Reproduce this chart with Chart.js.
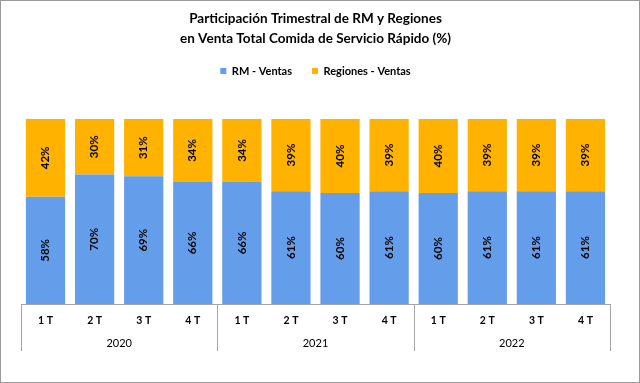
<!DOCTYPE html>
<html>
<head>
<meta charset="utf-8">
<script src="https://cdn.jsdelivr.net/npm/chart.js@4"></script>
<style>
  html, body { margin: 0; padding: 0; background: #fff; }
  canvas { display: block; }
</style>
</head>
<body>
<canvas id="ventasChart" width="640" height="383"></canvas>
<script>
const quarters = ["1 T", "2 T", "3 T", "4 T", "1 T", "2 T", "3 T", "4 T", "1 T", "2 T", "3 T", "4 T"];
const years = ["2020", "2021", "2022"];
const rmVentas = [58, 70, 69, 66, 66, 61, 60, 61, 60, 61, 61, 61];
const regionesVentas = [42, 30, 31, 34, 34, 39, 40, 39, 40, 39, 39, 39];

const FONT = "Lato, 'Open Sans', sans-serif";

// % labels inside each segment, rotated
const segmentLabels = {
  id: "segmentLabels",
  afterDatasetsDraw(chart) {
    const ctx = chart.ctx;
    ctx.save();
    ctx.font = "bold 11.5px " + FONT;
    ctx.fillStyle = "#000";
    ctx.textAlign = "center";
    ctx.textBaseline = "middle";
    chart.data.datasets.forEach((ds, i) => {
      chart.getDatasetMeta(i).data.forEach((bar, j) => {
        const cy = (bar.y + bar.base) / 2;
        ctx.save();
        ctx.translate(bar.x, cy);
        ctx.rotate(-Math.PI / 2);
        ctx.fillText(ds.data[j] + "%", 0, 0);
        ctx.restore();
      });
    });
    ctx.restore();
  },
};

// year groups under the quarter labels + outer frame
const yearGroups = {
  id: "yearGroups",
  afterDraw(chart) {
    const ctx = chart.ctx;
    const xs = chart.scales.x;
    const area = chart.chartArea;
    const per = quarters.length / years.length;
    const edges = [area.left];
    for (let g = 1; g < years.length; g++) {
      const a = xs.getPixelForValue(g * per - 1);
      const b = xs.getPixelForValue(g * per);
      edges.push((a + b) / 2);
    }
    edges.push(area.right);

    ctx.save();
    ctx.strokeStyle = "#a6a6a6";
    ctx.lineWidth = 1;
    edges.forEach((x) => {
      const px = Math.round(x) + 0.5;
      ctx.beginPath();
      ctx.moveTo(px, xs.top);
      ctx.lineTo(px, xs.top + 47);
      ctx.stroke();
    });
    ctx.font = "11px " + FONT;
    ctx.fillStyle = "#000";
    ctx.textAlign = "center";
    ctx.textBaseline = "middle";
    years.forEach((y, g) => {
      ctx.fillText(y, (edges[g] + edges[g + 1]) / 2, xs.top + 39);
    });

    ctx.strokeStyle = "#9a9a9a";
    ctx.strokeRect(0.5, 0.5, chart.width - 1, chart.height - 1);
    ctx.restore();
  },
};

new Chart(document.getElementById("ventasChart"), {
  type: "bar",
  data: {
    labels: quarters,
    datasets: [
      {
        label: "RM - Ventas",
        data: rmVentas,
        backgroundColor: "#649EEA",
        categoryPercentage: 0.8,
        barPercentage: 1,
      },
      {
        label: "Regiones - Ventas",
        data: regionesVentas,
        backgroundColor: "#FFB300",
        categoryPercentage: 0.8,
        barPercentage: 1,
      },
    ],
  },
  options: {
    responsive: false,
    animation: false,
    devicePixelRatio: 1,
    layout: {
      padding: { left: 21, right: 30, top: 0, bottom: 0 },
    },
    plugins: {
      title: {
        display: true,
        text: [
          "Participación Trimestral de RM y Regiones",
          "en Venta Total Comida de Servicio Rápido (%)",
        ],
        color: "#000",
        font: { family: FONT, size: 13.5, weight: "bold", lineHeight: "20px" },
        padding: { top: 9, bottom: -3.5 },
      },
      legend: {
        display: true,
        labels: {
          color: "#000",
          boxWidth: 6,
          boxHeight: 6,
          padding: 20,
          font: { family: FONT, size: 11, weight: "bold" },
        },
      },
      // empty subtitle used as spacer between legend and bars
      subtitle: {
        display: true,
        text: "",
        weight: 500,
        font: { size: 10, lineHeight: "10px" },
        padding: { top: 0, bottom: 22.5 },
      },
      tooltip: { enabled: false },
    },
    scales: {
      x: {
        stacked: true,
        grid: { display: false, drawTicks: false },
        border: { display: true, color: "#a6a6a6", width: 1 },
        ticks: {
          color: "#000",
          padding: 10,
          font: { family: FONT, size: 10.5, weight: "bold" },
        },
        afterFit(scale) {
          scale.height = 79;
        },
      },
      y: {
        stacked: true,
        display: false,
        min: 0,
        max: 100,
      },
    },
  },
  plugins: [segmentLabels, yearGroups],
});
</script>
</body>
</html>
